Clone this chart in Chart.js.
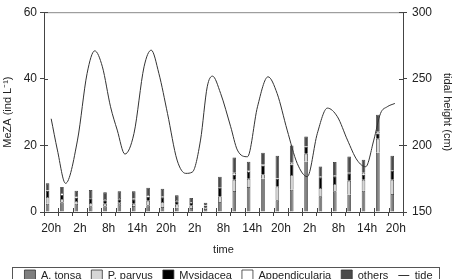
<!DOCTYPE html>
<html>
<head>
<meta charset="utf-8">
<script src="https://cdn.jsdelivr.net/npm/chart.js@4.4.0/dist/chart.umd.min.js"></script>
<style>
  html, body { margin: 0; padding: 0; background: #fff; overflow: hidden; }
</style>
</head>
<body>
<canvas id="myChart" width="457" height="291"></canvas>
<script>
// sampling times, every 3 h
var times = ['20h','23h','2h','5h','8h','11h','14h','17h',
             '20h','23h','2h','5h','8h','11h','14h','17h',
             '20h','23h','2h','5h','8h','11h','14h','17h','20h'];

// MeZA (ind L-1)
var aTonsa = [2.5,2.9,2.5,1.7,1.7,2.3,1.8,2.0, 1.5,1.3,1.2,0.9,3.0,6.3,7.5,10.0, 3.5,6.7,15.1,4.7,6.2,5.2,6.4,17.8,5.4];
var pParvus = [2.0,1.0,0.8,1.0,0.8,0.5,0.7,1.4, 1.5,1.0,0.8,0.4,1.7,3.4,2.5,1.3, 4.2,4.4,2.4,2.5,2.2,4.2,3.3,4.2,4.3];
var mysidacea = [1.9,1.2,1.0,1.4,1.0,1.0,1.3,1.2, 1.4,0.9,0.7,0.6,2.5,1.5,2.0,2.7, 2.3,3.2,2.0,3.2,2.3,2.2,1.5,1.6,2.7];
var appendicularia = [0.1,0.6,0.4,0.1,0.4,0.4,0.3,0.5, 0.3,0.4,0.3,0.1,0.1,0.6,0.4,0.3, 0.1,0.5,0.2,0.3,0.3,0.2,0.6,0.5,0.2];
var others = [2.1,1.8,1.7,2.4,2.0,2.0,2.1,2.2, 2.3,1.4,1.2,0.8,3.3,4.6,2.7,3.5, 6.8,5.2,3.0,3.0,4.0,4.9,3.9,5.1,4.3];

// tide: hours after first sample, height in cm
var tideHour = [0,1.3,3.0,5.5,7.5,9.1,10.7,12.4,13.8,15.4,17.3,19.4,20.9,22.5,24.3,26.3,28.1,29.5,31.2,32.6,
                33.7,35.4,37.5,38.9,41.0,43.1,45.3,47.2,49.3,51.4,53.5,55.6,57.7,59.8,61.9,63.9,65.7,67.4,68.8,70.2,71.8];
var tideHeight = [220,196.5,171.5,204,254,271,259,229,211.5,193.5,209,259,271.5,254,224,189,179,180,204,244,
                  252,239,214,196.5,191.5,229,251.5,239,211.5,186.5,176.5,209,228,221.5,204,189,184,204,224,229,231.5];

var leftTicks = [0, 20, 40, 60];
var rightTicks = [150, 200, 250, 300];

var family = "'Liberation Sans', Arial, sans-serif";
var tickFont = { family: family, size: 12 };
var font = { family: family, size: 11 };
var ink = '#222';

function barSet(label, data, color) {
    return {
        type: 'bar', label: label, data: data,
        backgroundColor: color, borderColor: '#333', borderWidth: 0.8,
        barPercentage: 0.5, categoryPercentage: 1,
        stack: 'meza', yAxisID: 'y', xAxisID: 'x', order: 1,
        pointStyle: 'rect'
    };
}

var tidePoints = tideHour.map(function (h, i) { return { x: h, y: tideHeight[i] }; });

// little ticks on the inner side + top border + legend frame
var frame = {
    id: 'frame',
    afterDraw: function (chart) {
        var ctx = chart.ctx, a = chart.chartArea, s = chart.scales;
        ctx.save();
        ctx.lineWidth = 1;
        ctx.strokeStyle = '#888';
        ctx.beginPath();
        ctx.moveTo(a.left, a.top + 0.5);
        ctx.lineTo(a.right, a.top + 0.5);
        ctx.stroke();

        ctx.strokeStyle = '#444';
        ctx.beginPath();
        leftTicks.forEach(function (v) {
            var y = Math.round(s.y.getPixelForValue(v)) + 0.5;
            ctx.moveTo(a.left, y); ctx.lineTo(a.left + 4, y);
        });
        rightTicks.forEach(function (v) {
            var y = Math.round(s.y2.getPixelForValue(v)) + 0.5;
            ctx.moveTo(a.right, y); ctx.lineTo(a.right - 4, y);
        });
        for (var i = 1; i < times.length; i++) {
            var x = Math.round(s.x.getPixelForValue(i - 0.5)) + 0.5;
            ctx.moveTo(x, a.bottom); ctx.lineTo(x, a.bottom - 4);
        }
        ctx.stroke();

        var hb = chart.legend.legendHitBoxes;
        if (hb && hb.length) {
            var first = hb[0], last = hb[hb.length - 1];
            var cy = first.top + first.height / 2;
            ctx.strokeStyle = '#555';
            ctx.strokeRect(Math.round(first.left - 12) + 0.5, Math.round(cy - 9) + 0.5,
                Math.round(last.left + last.width + 7 - first.left + 12), 22);
        }
        ctx.restore();
    }
};

var ctx = document.getElementById('myChart').getContext('2d');
var myChart = new Chart(ctx, {
    data: {
        labels: times,
        datasets: [
            barSet('A. tonsa', aTonsa, '#7f7f7f'),
            barSet('P. parvus', pParvus, '#d6d6d6'),
            barSet('Mysidacea', mysidacea, '#000000'),
            barSet('Appendicularia', appendicularia, '#ffffff'),
            barSet('others', others, '#4a4a4a'),
            {
                type: 'line', label: 'tide', data: tidePoints,
                xAxisID: 'xt', yAxisID: 'y2', order: 0,
                borderColor: '#333', borderWidth: 1, pointRadius: 0,
                cubicInterpolationMode: 'monotone', fill: false,
                pointStyle: 'line', backgroundColor: '#333'
            }
        ]
    },
    options: {
        responsive: false,
        devicePixelRatio: 1,
        animation: false,
        layout: { padding: { top: 12, left: 0, right: 0, bottom: 0 } },
        plugins: {
            legend: {
                position: 'bottom',
                labels: {
                    usePointStyle: true, pointStyleWidth: 11, boxHeight: 11,
                    padding: 10, color: ink, font: font,
                    sort: function (a, b) { return a.datasetIndex - b.datasetIndex; }
                }
            },
            tooltip: { enabled: false }
        },
        scales: {
            x: {
                type: 'category', offset: true,
                grid: { offset: true, drawOnChartArea: false, tickLength: 4, color: '#444' },
                border: { color: '#444', width: 1 },
                ticks: {
                    autoSkip: false, maxRotation: 0, color: ink, font: tickFont, padding: 5,
                    callback: function (v, i) { return i % 2 === 0 ? times[i] : ''; }
                },
                title: { display: true, text: 'time', color: ink, font: font, padding: { top: 4, bottom: 3 } },
                afterFit: function (sc) { sc.height = 48; }
            },
            xt: {
                type: 'linear', display: false, min: -1.5, max: 73.5
            },
            y: {
                position: 'left', min: 0, max: 60,
                grid: { drawOnChartArea: false, tickLength: 4, color: '#444' },
                border: { color: '#444', width: 1 },
                ticks: { stepSize: 20, color: ink, font: tickFont, padding: 3 },
                title: { display: true, text: 'MeZA (ind L\u207B\u00B9)', color: ink, font: font, padding: { top: 1, bottom: 0 } },
                afterFit: function (sc) { sc.width = 44; }
            },
            y2: {
                position: 'right', min: 150, max: 300,
                grid: { drawOnChartArea: false, tickLength: 4, color: '#444' },
                border: { color: '#444', width: 1 },
                ticks: { stepSize: 50, color: ink, font: tickFont, padding: 5 },
                title: { display: true, text: 'tidal height (cm)', color: ink, font: font, padding: { top: 3, bottom: 0 } },
                afterFit: function (sc) { sc.width = 54; }
            }
        }
    },
    plugins: [frame]
});
</script>
</body>
</html>
